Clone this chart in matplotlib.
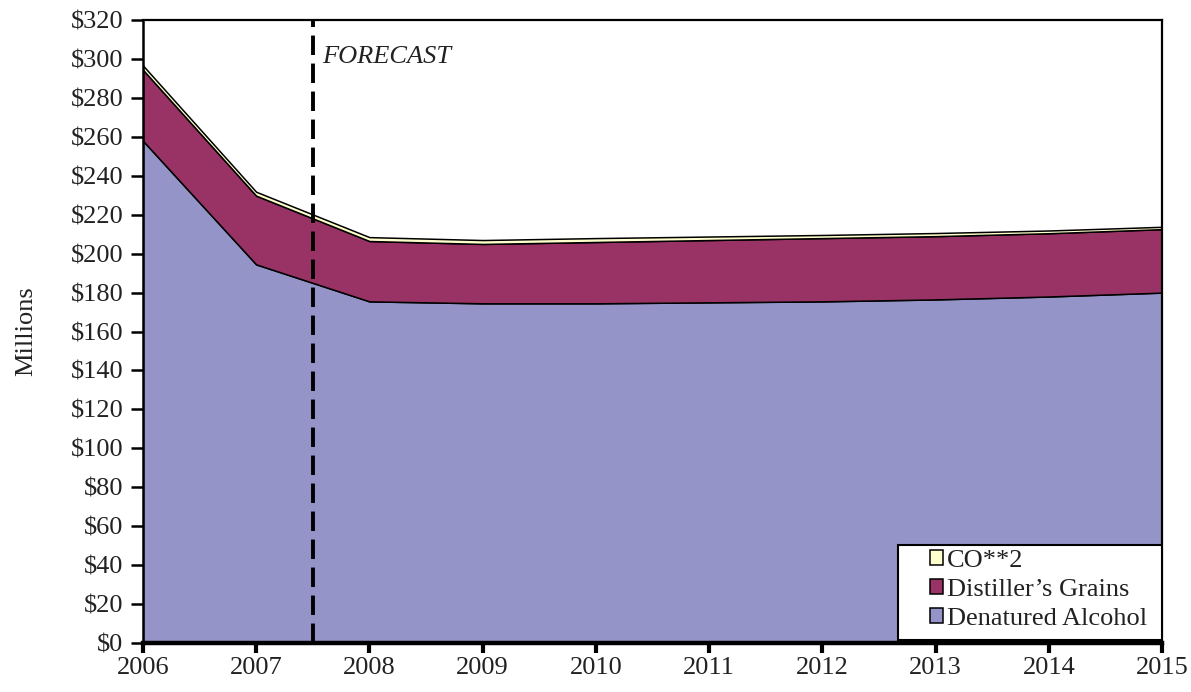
import matplotlib
matplotlib.use("Agg")
import matplotlib.pyplot as plt
from matplotlib.patches import Patch, Rectangle
from matplotlib.ticker import FuncFormatter

# Annual revenue by co-product, millions of dollars
years = [2006, 2007, 2008, 2009, 2010, 2011, 2012, 2013, 2014, 2015]
denatured_alcohol = [258.0, 194.5, 175.5, 174.5, 174.5, 175.0, 175.5, 176.5, 178.0, 180.0]
distillers_grains = [36.5, 35.3, 31.0, 30.5, 31.5, 32.0, 32.5, 32.5, 32.5, 32.6]
co2 = [2.2, 2.0, 2.0, 2.0, 2.0, 1.8, 1.6, 1.6, 1.4, 1.2]

series_labels = ["Denatured Alcohol", "Distiller\u2019s Grains", "CO**2"]
series_colors = ["#9494c8", "#993366", "#ffffcc"]

forecast_start = 2007.5
y_ticks = list(range(0, 321, 20))
x_ticks = years

plt.rcParams["font.family"] = ["Liberation Serif", "DejaVu Serif"]
FS = 19

fig = plt.figure(figsize=(11.91, 6.92), dpi=100)
ax = fig.add_axes([0.120, 0.0708, 0.8557, 0.9002])

ax.stackplot(years, denatured_alcohol, distillers_grains, co2,
             colors=series_colors, edgecolor="black", linewidth=1.1)

ax.axvline(forecast_start, color="black", linestyle=(0, (5, 2.2)), linewidth=2.8, zorder=5)
ax.text(forecast_start + 0.08, 301, "FORECAST", fontsize=FS, style="italic",
        ha="left", va="center", color="#222222")

ax.set_xlim(years[0], years[-1])
ax.set_ylim(0, 320)
ax.set_xticks(x_ticks)
ax.set_yticks(y_ticks)
ax.yaxis.set_major_formatter(FuncFormatter(lambda v, p: f"${v:.0f}"))
ax.tick_params(axis="both", direction="out", labelsize=FS,
               colors="black", labelcolor="#222222")
ax.tick_params(axis="y", length=9, width=1.8, pad=5)
ax.tick_params(axis="x", length=7, width=3.0, pad=3)
ax.set_ylabel("Millions", fontsize=FS, color="#222222", labelpad=24)

for side in ("top", "right"):
    ax.spines[side].set_linewidth(1.6)
ax.spines["left"].set_linewidth(1.8)
ax.spines["bottom"].set_linewidth(3.2)

# Legend box spanning the lower-right corner of the plot
ax.add_patch(Rectangle((0.741, 0.005), 0.259, 0.152, transform=ax.transAxes,
                       facecolor="white", edgecolor="black", linewidth=1.5, zorder=9))
handles = [Patch(facecolor=c, edgecolor="black", linewidth=1.1, label=l)
           for c, l in zip(series_colors[::-1], series_labels[::-1])]
leg = ax.legend(handles=handles, loc="upper left", bbox_to_anchor=(0.772, 0.150),
                fontsize=FS, frameon=False, handlelength=0.5, handleheight=0.5,
                handletextpad=0.15, labelspacing=0.27, borderpad=0.0,
                borderaxespad=0.0)
leg.set_zorder(10)
for t in leg.get_texts():
    t.set_color("#222222")

fig.savefig("out.png", dpi=100)
